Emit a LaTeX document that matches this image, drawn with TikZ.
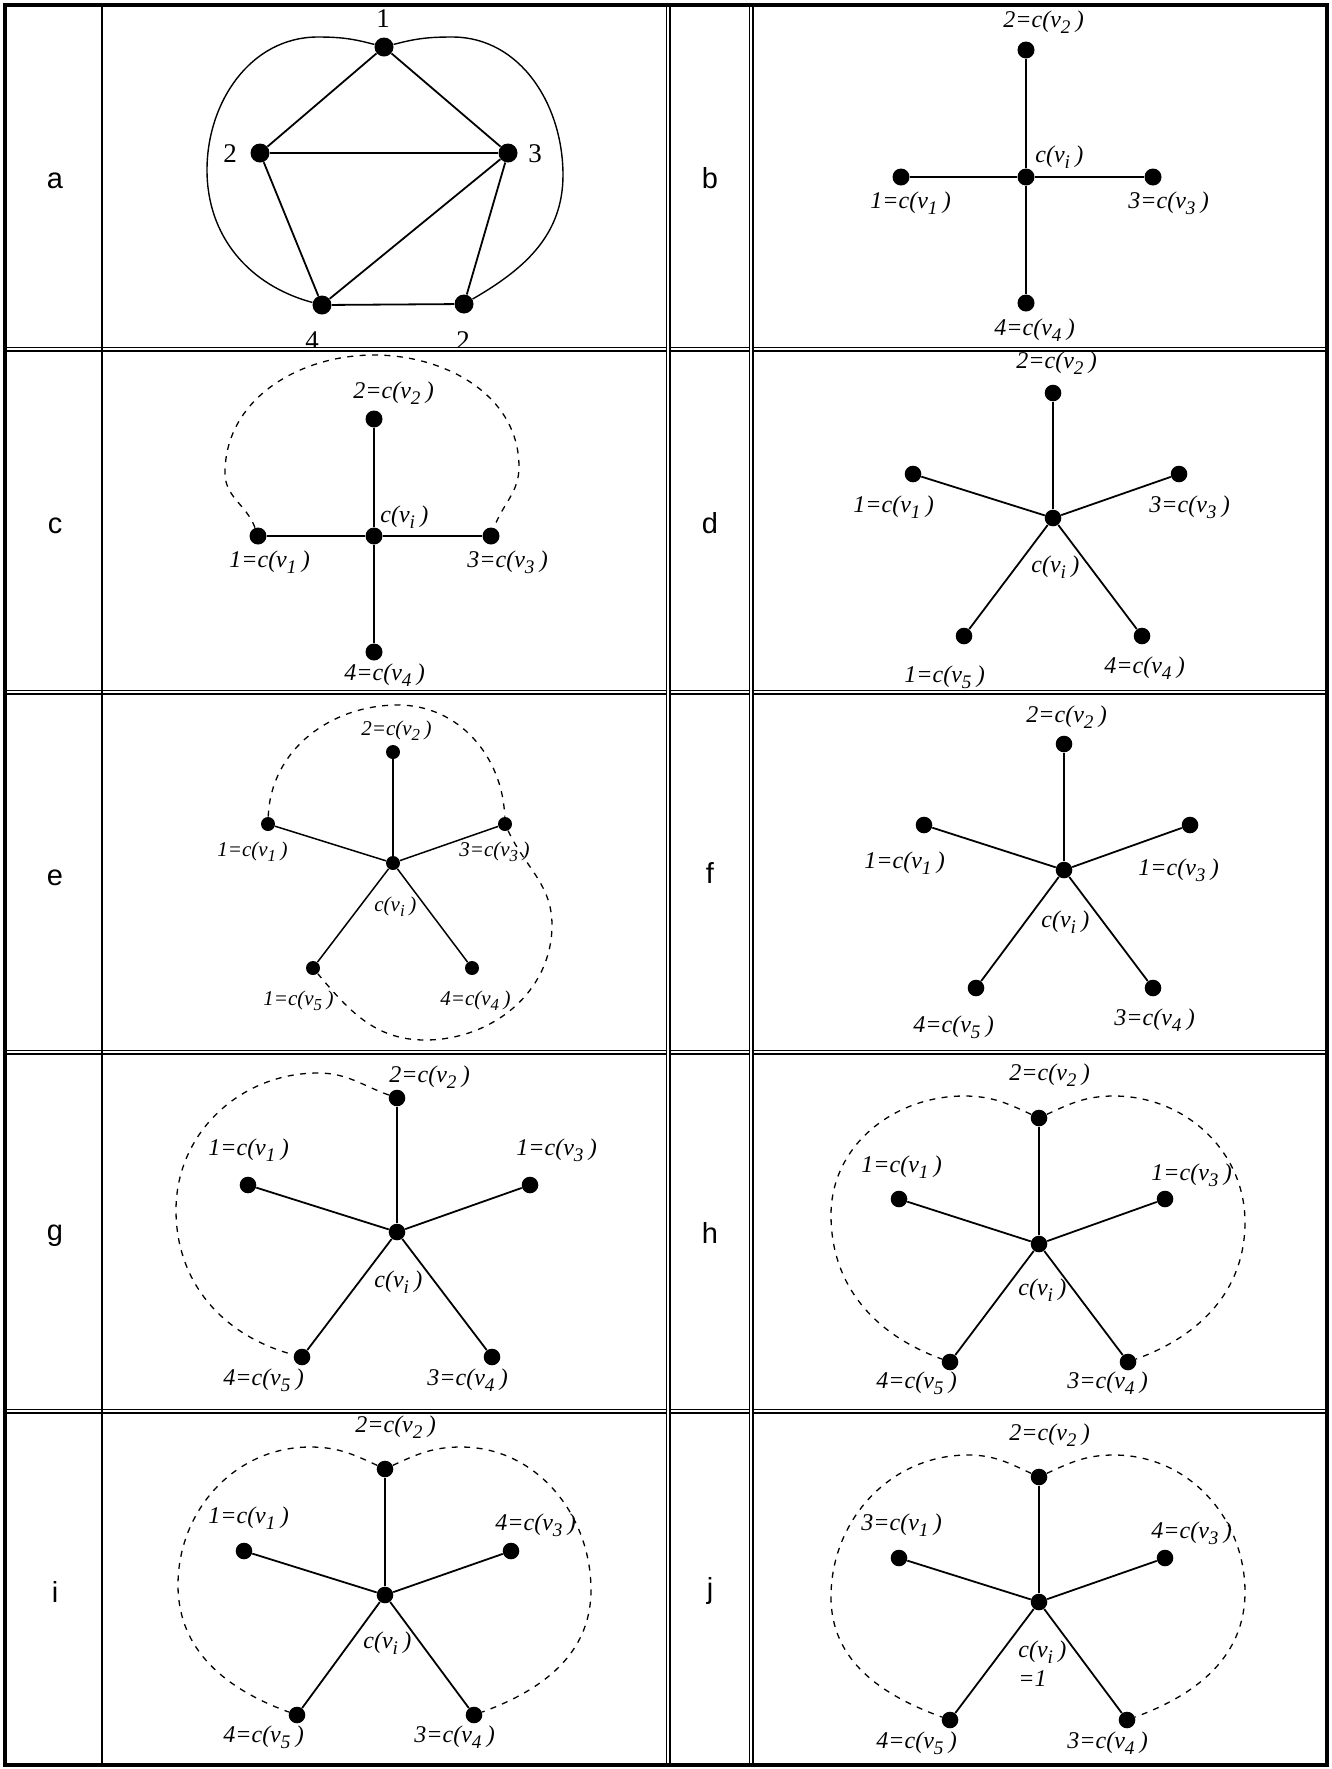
\documentclass[tikz,border=0pt]{standalone}
\usepackage{fontspec}
\setmainfont{Liberation Serif}
\newfontfamily\sansfam{Liberation Sans}
\usepackage{graphicx}
\usepackage{tikz}
\newcommand{\vsub}[1]{\raisebox{-0.6ex}{\scalebox{0.8}{#1}}}
\newcommand{\cvlab}[2]{#1=c(v\vsub{#2}\hspace{0.22em})}
\newcommand{\cilab}{c(v\vsub{i}\hspace{0.22em})}

\begin{document}
\begin{tikzpicture}[x=0.5pt, y=0.5pt,
  vtx/.style={circle, fill=black, inner sep=0pt, minimum size=8.3pt},
  spoke/.style={line width=0.9pt},
  dsh/.style={line width=0.65pt, dash pattern=on 3pt off 3.2pt},
  lab/.style={font=\itshape\fontsize{12}{14.5}\selectfont, inner sep=0pt, anchor=base west},
  small/.style={font=\itshape\fontsize{10.5}{12}\selectfont},
  num/.style={font=\fontsize{13.5}{15}\selectfont, inner sep=0pt, anchor=base},
  panel/.style={font=\sansfam\fontsize{14.5}{17}\selectfont, inner sep=0pt, anchor=base},
  rule/.style={line width=0.7pt, double, double distance=1.1pt},
  ]
\useasboundingbox (0,0) rectangle (1332,-1769);

% === panel letters
\foreach \t/\y in {a/188,c/533,e/885,g/1240,i/1602}
  {\node[panel] (t\t) at (55,-\y) {\t};}
\foreach \t/\y in {b/188,d/533,f/883,h/1243,j/1598}
  {\node[panel] (t\t) at (710,-\y) {\t};}

% === a: the coloured graph
\node[vtx, minimum size=9.5pt] (a1) at (384,-47) {};
\node[vtx, minimum size=9.5pt] (a2) at (260,-153) {};
\node[vtx, minimum size=9.5pt] (a3) at (508,-153) {};
\node[vtx, minimum size=9.5pt] (a4) at (322,-305) {};
\node[vtx, minimum size=9.5pt] (a5) at (464,-304) {};
\foreach \p/\q in {a1/a2,a1/a3,a2/a3,a2/a4,a3/a4,a3/a5,a4/a5}
  {\draw[spoke] (\p) -- (\q);}
\coordinate (aL) at (207,-170);
\coordinate (aTL) at (318,-37);
\coordinate (aTR) at (452,-37);
\coordinate (aR) at (563,-175);
\draw[line width=0.7pt] (a4) to[out=165,in=270] (aL) to[out=90,in=180] (aTL) to[out=0,in=165] (a1);
\draw[line width=0.7pt] (a1) to[out=15,in=180] (aTR) to[out=0,in=90] (aR) to[out=270,in=30] (a5);
\node[num] (n1) at (383,-27) {1};
\node[num] (n2) at (230,-162) {2};
\node[num] (n3) at (535,-162) {3};
\node[num] (n4) at (312,-349) {4};
\node[num] (n5) at (463,-349) {2};

% === b
\node[vtx, minimum size=8.5pt] (b0) at (1026,-177) {};
\node[vtx, minimum size=8.5pt] (b1) at (901,-177) {};
\node[vtx, minimum size=8.5pt] (b2) at (1026,-50) {};
\node[vtx, minimum size=8.5pt] (b3) at (1153,-177) {};
\node[vtx, minimum size=8.5pt] (b4) at (1026,-303) {};
\foreach \k in {1,...,4} {\draw[spoke] (b0) -- (b\k);}
\node[lab] (b2l) at (1003,-27) {\cvlab{2}{2}};
\node[lab] (b0l) at (1035,-162) {\cilab};
\node[lab] (b1l) at (870,-208) {\cvlab{1}{1}};
\node[lab] (b3l) at (1128,-208) {\cvlab{3}{3}};
\node[lab] (b4l) at (994,-335) {\cvlab{4}{4}};

% === c
\node[vtx, minimum size=8.5pt] (c0) at (374,-536) {};
\node[vtx, minimum size=8.5pt] (c1) at (258,-536) {};
\node[vtx, minimum size=8.5pt] (c2) at (374,-419) {};
\node[vtx, minimum size=8.5pt] (c3) at (491,-536) {};
\node[vtx, minimum size=8.5pt] (c4) at (374,-652) {};
\foreach \k in {1,...,4} {\draw[spoke] (c0) -- (c\k);}
\coordinate (cL) at (225,-473);
\coordinate (cT) at (374,-355);
\coordinate (cR) at (519,-467);
\draw[dsh] (c1) to[out=110,in=270] (cL) to[out=90,in=180] (cT) to[out=0,in=90] (cR) to[out=270,in=70] (c3);
\node[lab] (c2l) at (353,-398) {\cvlab{2}{2}};
\node[lab] (c0l) at (380,-522) {\cilab};
\node[lab] (c1l) at (229,-567) {\cvlab{1}{1}};
\node[lab] (c3l) at (467,-567) {\cvlab{3}{3}};
\node[lab] (c4l) at (344,-680) {\cvlab{4}{4}};

% === d
\node[vtx] (d0) at (1053,-518) {};
\node[vtx] (d1) at (913,-474) {};
\node[vtx] (d2) at (1053,-393) {};
\node[vtx] (d3) at (1179,-474) {};
\node[vtx] (d4) at (1142,-636) {};
\node[vtx] (d5) at (964,-636) {};
\foreach \k in {1,...,5} {\draw[spoke] (d0) -- (d\k);}
\node[lab] (d2l) at (1016,-368) {\cvlab{2}{2}};
\node[lab] (d1l) at (853,-512) {\cvlab{1}{1}};
\node[lab] (d3l) at (1149,-512) {\cvlab{3}{3}};
\node[lab] (d0l) at (1031,-572) {\cilab};
\node[lab] (d5l) at (904,-682) {\cvlab{1}{5}};
\node[lab] (d4l) at (1104,-673) {\cvlab{4}{4}};

% === e
\node[vtx, minimum size=7pt] (e0) at (393,-863) {};
\node[vtx, minimum size=7pt] (e1) at (268,-824) {};
\node[vtx, minimum size=7pt] (e2) at (393,-752) {};
\node[vtx, minimum size=7pt] (e3) at (505,-824) {};
\node[vtx, minimum size=7pt] (e4) at (472,-968) {};
\node[vtx, minimum size=7pt] (e5) at (313,-968) {};
\foreach \k in {1,...,5} {\draw[spoke, line width=0.75pt] (e0) -- (e\k);}
\coordinate (eT) at (398,-705);
\coordinate (eR) at (552,-925);
\coordinate (eB) at (425,-1040);
\draw[dsh] (e1) to[out=88,in=180] (eT) to[out=0,in=92] (e3);
\draw[dsh] (e3) to[out=-65,in=90] (eR) to[out=-90,in=0] (eB) to[out=180,in=-50] (e5);
\node[lab, small] (e2l) at (361,-735) {\cvlab{2}{2}};
\node[lab, small] (e1l) at (217,-856) {\cvlab{1}{1}};
\node[lab, small] (e3l) at (459,-856) {\cvlab{3}{3}};
\node[lab, small] (e0l) at (374,-911) {\cilab};
\node[lab, small] (e5l) at (263,-1005) {\cvlab{1}{5}};
\node[lab, small] (e4l) at (440,-1005) {\cvlab{4}{4}};

% === f
\node[vtx] (f0) at (1064,-870) {};
\node[vtx] (f1) at (924,-825) {};
\node[vtx] (f2) at (1064,-744) {};
\node[vtx] (f3) at (1190,-825) {};
\node[vtx] (f4) at (1153,-988) {};
\node[vtx] (f5) at (976,-988) {};
\foreach \k in {1,...,5} {\draw[spoke] (f0) -- (f\k);}
\node[lab] (f2l) at (1026,-722) {\cvlab{2}{2}};
\node[lab] (f1l) at (864,-868) {\cvlab{1}{1}};
\node[lab] (f3l) at (1138,-875) {\cvlab{1}{3}};
\node[lab] (f0l) at (1041,-927) {\cilab};
\node[lab] (f5l) at (913,-1032) {\cvlab{4}{5}};
\node[lab] (f4l) at (1114,-1025) {\cvlab{3}{4}};

% === g
\node[vtx] (g0) at (397,-1232) {};
\node[vtx] (g1) at (248,-1185) {};
\node[vtx] (g2) at (397,-1098) {};
\node[vtx] (g3) at (530,-1185) {};
\node[vtx] (g4) at (492,-1357) {};
\node[vtx] (g5) at (302,-1357) {};
\foreach \k in {1,...,5} {\draw[spoke] (g0) -- (g\k);}
\coordinate (gT) at (318,-1073);
\coordinate (gL) at (176,-1210);
\draw[dsh] (g2) to[out=160,in=0] (gT) to[out=180,in=90] (gL) to[out=270,in=165] (g5);
\node[lab] (g2l) at (389,-1082) {\cvlab{2}{2}};
\node[lab] (g1l) at (208,-1155) {\cvlab{1}{1}};
\node[lab] (g3l) at (516,-1155) {\cvlab{1}{3}};
\node[lab] (g0l) at (374,-1287) {\cilab};
\node[lab] (g5l) at (223,-1385) {\cvlab{4}{5}};
\node[lab] (g4l) at (427,-1385) {\cvlab{3}{4}};

% === h
\node[vtx] (h0) at (1039,-1244) {};
\node[vtx] (h1) at (899,-1199) {};
\node[vtx] (h2) at (1039,-1118) {};
\node[vtx] (h3) at (1165,-1199) {};
\node[vtx] (h4) at (1128,-1362) {};
\node[vtx] (h5) at (950,-1362) {};
\foreach \k in {1,...,5} {\draw[spoke] (h0) -- (h\k);}
\coordinate (hTL) at (964,-1096);
\coordinate (hL) at (831,-1215);
\coordinate (hTR) at (1114,-1096);
\coordinate (hR) at (1245,-1222);
\draw[dsh] (h2) to[out=155,in=0] (hTL) to[out=180,in=90] (hL) to[out=270,in=160] (h5);
\draw[dsh] (h2) to[out=25,in=180] (hTR) to[out=0,in=90] (hR) to[out=270,in=20] (h4);
\node[lab] (h2l) at (1009,-1080) {\cvlab{2}{2}};
\node[lab] (h1l) at (861,-1172) {\cvlab{1}{1}};
\node[lab] (h3l) at (1151,-1180) {\cvlab{1}{3}};
\node[lab] (h0l) at (1018,-1295) {\cilab};
\node[lab] (h5l) at (876,-1388) {\cvlab{4}{5}};
\node[lab] (h4l) at (1067,-1388) {\cvlab{3}{4}};

% === i
\node[vtx] (i0) at (385,-1595) {};
\node[vtx] (i1) at (244,-1551) {};
\node[vtx] (i2) at (385,-1469) {};
\node[vtx] (i3) at (511,-1551) {};
\node[vtx] (i4) at (474,-1715) {};
\node[vtx] (i5) at (297,-1715) {};
\foreach \k in {1,...,5} {\draw[spoke] (i0) -- (i\k);}
\coordinate (iTL) at (310,-1447);
\coordinate (iL) at (178,-1585);
\coordinate (iTR) at (461,-1447);
\coordinate (iR) at (591,-1590);
\draw[dsh] (i2) to[out=155,in=0] (iTL) to[out=180,in=90] (iL) to[out=270,in=160] (i5);
\draw[dsh] (i2) to[out=25,in=180] (iTR) to[out=0,in=90] (iR) to[out=270,in=20] (i4);
\node[lab] (i2l) at (355,-1432) {\cvlab{2}{2}};
\node[lab] (i1l) at (208,-1523) {\cvlab{1}{1}};
\node[lab] (i3l) at (495,-1530) {\cvlab{4}{3}};
\node[lab] (i0l) at (363,-1648) {\cilab};
\node[lab] (i5l) at (223,-1742) {\cvlab{4}{5}};
\node[lab] (i4l) at (414,-1742) {\cvlab{3}{4}};

% === j
\node[vtx] (j0) at (1039,-1602) {};
\node[vtx] (j1) at (899,-1558) {};
\node[vtx] (j2) at (1039,-1477) {};
\node[vtx] (j3) at (1165,-1558) {};
\node[vtx] (j4) at (1127,-1720) {};
\node[vtx] (j5) at (950,-1720) {};
\foreach \k in {1,...,5} {\draw[spoke] (j0) -- (j\k);}
\coordinate (jTL) at (968,-1455);
\coordinate (jL) at (831,-1597);
\coordinate (jTR) at (1114,-1455);
\coordinate (jR) at (1245,-1592);
\draw[dsh] (j2) to[out=155,in=0] (jTL) to[out=180,in=90] (jL) to[out=270,in=160] (j5);
\draw[dsh] (j2) to[out=25,in=180] (jTR) to[out=0,in=90] (jR) to[out=270,in=20] (j4);
\node[lab] (j2l) at (1009,-1440) {\cvlab{2}{2}};
\node[lab] (j1l) at (861,-1530) {\cvlab{3}{1}};
\node[lab] (j3l) at (1151,-1538) {\cvlab{4}{3}};
\node[lab, anchor=north west, align=left] (j0l) at (1018,-1640) {\cilab\\=1};
\node[lab] (j5l) at (876,-1748) {\cvlab{4}{5}};
\node[lab] (j4l) at (1067,-1748) {\cvlab{3}{4}};

% === table rules
\foreach \y in {349,692,1052,1411} {\draw[rule] (5,-\y) -- (1327,-\y);}
\draw[line width=1pt] (102,-5) -- (102,-1765);
\foreach \x in {668,751} {\draw[rule] (\x,-5) -- (\x,-1765);}
\draw[line width=1.6pt] (5,-5) rectangle (1327,-1765);

\end{tikzpicture}
\end{document}
